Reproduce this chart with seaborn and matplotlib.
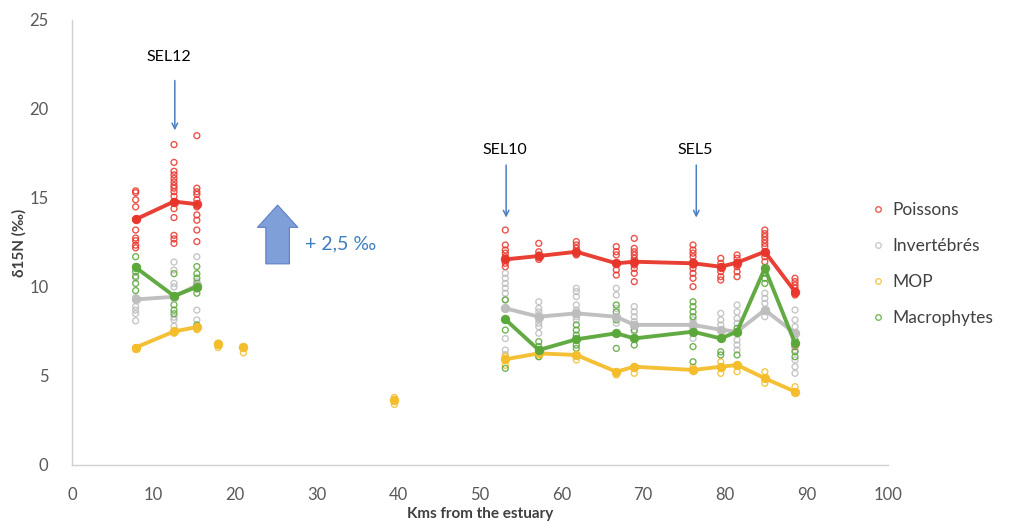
import pandas as pd
import matplotlib.pyplot as plt
from matplotlib.lines import Line2D
import seaborn as sns

# ==================== Données ====================
# stations : partie aval (gauche) et partie amont (droite)
sites_gauche = [7.8, 12.5, 15.3]
sites_droite = [53.1, 57.2, 61.8, 66.7, 68.9, 76.1, 79.5, 81.5, 84.9, 88.6]
sites_mop_isoles = [17.9, 21.0, 39.5]

# échantillons individuels, une liste par station (gauche puis droite)
poissons_ech = [
    [15.4, 15.3, 14.9, 14.5, 13.8, 13.2, 12.75, 12.6, 12.35, 12.2],
    [18.0, 17.0, 16.5, 16.3, 16.1, 15.9, 15.7, 15.55, 15.35, 15.1, 14.8, 14.4, 13.9, 12.9, 12.7, 12.45],
    [18.5, 15.55, 15.35, 15.2, 14.9, 14.5, 14.05, 13.75, 13.2, 12.55],
    [13.2, 12.36, 12.08, 11.9, 11.7, 11.55, 11.33, 11.14],
    [12.45, 11.98, 11.8, 11.7, 11.55],
    [12.55, 12.36, 12.17, 11.98, 11.8],
    [12.27, 11.98, 11.8, 11.33, 10.96, 10.67],
    [12.73, 12.17, 11.98, 11.8, 11.61, 11.42, 11.24, 11.05, 10.77, 10.3],
    [12.36, 12.08, 11.9, 11.7, 11.42, 11.24, 11.05, 10.77, 10.49, 10.02],
    [11.61, 11.33, 11.14, 10.86, 10.58, 10.39],
    [11.8, 11.61, 11.37, 11.14, 10.86, 10.58],
    [13.2, 13.0, 12.83, 12.64, 12.45, 12.27, 11.98, 11.7, 11.42],
    [10.49, 10.3, 10.11, 9.93, 9.74, 9.55, 6.65],
]
invertebres_ech = [
    [10.5, 9.4, 8.9, 8.7, 8.5, 8.1],
    [11.4, 10.95, 10.2, 10.0, 9.5, 8.3, 8.15, 7.8],
    [11.7, 10.3, 9.9, 8.7, 8.15],
    [10.77, 10.49, 10.2, 9.93, 9.65, 9.3, 8.8, 8.2, 7.1, 6.46, 6.2],
    [9.17, 8.8, 8.6, 8.4, 8.15, 7.96, 7.77, 7.4],
    [9.93, 9.74, 9.46, 8.99, 8.7, 8.33, 8.15],
    [9.93, 9.55, 8.8, 8.33, 7.96],
    [8.9, 8.6, 8.33, 8.05, 7.87, 7.5],
    [8.15, 7.96, 7.68, 7.11],
    [8.52, 8.15, 7.87, 7.58],
    [8.99, 8.6, 8.24, 7.96, 7.49, 7.02, 6.74, 6.46],
    [9.65, 9.36, 9.08, 8.71, 8.33],
    [8.71, 8.15, 7.77, 7.4, 6.46, 5.9, 5.52, 5.15],
]
macrophytes_ech = [
    [11.7, 11.15, 10.86, 10.6, 10.2, 9.8],
    [10.75, 9.45, 9.0, 8.7, 8.5],
    [11.15, 10.75, 10.5, 10.2, 9.9, 9.65, 7.87],
    [9.27, 8.18, 7.58, 5.43],
    [6.93, 6.65, 6.46, 6.27, 6.08],
    [7.87, 7.58, 7.3, 7.06, 6.74, 6.55],
    [8.99, 8.6, 8.15, 7.4, 6.55],
    [7.58, 7.11, 6.74],
    [9.17, 8.9, 8.6, 8.33, 7.49, 6.65, 5.8],
    [7.11, 6.36, 6.18],
    [7.68, 7.49, 6.18],
    [11.05, 10.77, 10.49, 10.2],
    [7.02, 6.84, 6.36, 6.08],
]
mop_ech = [
    [6.6, 6.5], [7.5, 7.4], [7.75, 7.6],
    [6.1, 5.94, 5.6], [6.27, 6.1], [6.18, 5.9], [5.24, 5.06], [5.52, 5.15],
    [5.5, 5.34], [5.8, 5.52, 5.15], [5.62, 5.24], [5.24, 4.87, 4.59], [4.4, 4.12],
]
mop_isoles_ech = [[6.85, 6.6], [6.6, 6.3], [3.8, 3.4]]

# moyennes par station (courbes)
poissons_moy_g = [13.8, 14.8, 14.65]
poissons_moy_d = [11.55, 11.74, 11.98, 11.33, 11.42, 11.33, 11.14, 11.37, 11.98, 9.74]
invertebres_moy_g = [9.3, 9.45, 10.1]
invertebres_moy_d = [8.8, 8.33, 8.52, 8.33, 7.87, 7.87, 7.6, 7.49, 8.71, 7.4]
macrophytes_moy_g = [11.1, 9.5, 10.0]
macrophytes_moy_d = [8.18, 6.46, 7.06, 7.4, 7.11, 7.49, 7.11, 7.49, 11.05, 6.84]
mop_moy_g = [6.6, 7.5, 7.75]
mop_moy_d = [5.94, 6.27, 6.18, 5.24, 5.52, 5.34, 5.52, 5.62, 4.87, 4.12]
mop_moy_isoles = [6.8, 6.65, 3.65]

groupes = ['Poissons', 'Invertébrés', 'MOP', 'Macrophytes']
couleurs = {'Poissons': '#e8352b', 'Invertébrés': '#bdbdbd', 'MOP': '#f3bd2b', 'Macrophytes': '#5aa73a'}


def en_long(sites, echantillons, groupe):
    rows = [(km, v, groupe) for km, vals in zip(sites, echantillons) for v in vals]
    return pd.DataFrame(rows, columns=['km', 'd15N', 'groupe'])


tous_sites = sites_gauche + sites_droite
df = pd.concat([
    en_long(tous_sites, poissons_ech, 'Poissons'),
    en_long(tous_sites, invertebres_ech, 'Invertébrés'),
    en_long(tous_sites, mop_ech, 'MOP'),
    en_long(sites_mop_isoles, mop_isoles_ech, 'MOP'),
    en_long(tous_sites, macrophytes_ech, 'Macrophytes'),
], ignore_index=True)

moyennes = {
    'Invertébrés': (invertebres_moy_g, invertebres_moy_d),
    'MOP': (mop_moy_g, mop_moy_d),
    'Macrophytes': (macrophytes_moy_g, macrophytes_moy_d),
    'Poissons': (poissons_moy_g, poissons_moy_d),
}

# ==================== Figure ====================
sns.set_style('white')
plt.rcParams['font.family'] = ['Lato', 'DejaVu Sans']

fig = plt.figure(figsize=(10.27, 5.23), dpi=100)
ax = fig.add_axes([0.0701, 0.1109, 0.7946, 0.8509])

# points individuels (cercles creux)
for g in groupes:
    sns.scatterplot(data=df[df['groupe'] == g], x='km', y='d15N', ax=ax, marker='o', s=18,
                    color=couleurs[g], facecolors='none', edgecolor=couleurs[g],
                    linewidth=1.0, alpha=0.85, legend=False, zorder=2)

# moyennes reliées par des lignes
for g, (moy_g, moy_d) in moyennes.items():
    for xs, ys in [(sites_gauche, moy_g), (sites_droite, moy_d)]:
        sns.lineplot(x=xs, y=ys, ax=ax, color=couleurs[g], linewidth=2.8, marker='o',
                     markersize=6, markeredgecolor=couleurs[g], alpha=0.95, zorder=3)
sns.scatterplot(x=sites_mop_isoles, y=mop_moy_isoles, ax=ax, color=couleurs['MOP'],
                s=40, edgecolor=couleurs['MOP'], legend=False, zorder=3)

ax.set_xlim(0, 100)
ax.set_ylim(0, 25)
ax.set_xticks(range(0, 101, 10))
ax.set_yticks(range(0, 26, 5))
ax.tick_params(axis='both', length=0, labelsize=12, labelcolor='#595959')
ax.tick_params(axis='x', pad=16)
ax.tick_params(axis='y', pad=17)
sns.despine(ax=ax)
for s in ['left', 'bottom']:
    ax.spines[s].set_color('#d0d0d0')
    ax.spines[s].set_linewidth(1)

ax.set_xlabel('Kms from the estuary', fontsize=11, fontweight='bold', color='#404040', labelpad=3)
ax.set_ylabel('δ15N (‰)', fontsize=11, fontweight='bold', color='#404040')
ax.yaxis.set_label_coords(-0.056, 0.5)

# ==================== Annotations ====================
fleche_fine = dict(arrowstyle='->', color='#4a7fc1', lw=1.1, shrinkA=0, shrinkB=0)
ax.annotate('', xy=(12.6, 18.8), xytext=(12.6, 21.6), arrowprops=fleche_fine)
ax.text(11.9, 22.9, 'SEL12', ha='center', va='center', fontsize=11.5, color='black')
ax.annotate('', xy=(53.2, 13.9), xytext=(53.2, 16.85), arrowprops=fleche_fine)
ax.text(53.0, 17.7, 'SEL10', ha='center', va='center', fontsize=11.5, color='black')
ax.annotate('', xy=(76.5, 13.9), xytext=(76.5, 16.85), arrowprops=fleche_fine)
ax.text(76.4, 17.7, 'SEL5', ha='center', va='center', fontsize=11.5, color='black')

ax.annotate('', xy=(25.2, 14.6), xytext=(25.2, 11.3),
            arrowprops=dict(arrowstyle='simple,head_length=0.8,head_width=1.45,tail_width=0.85',
                            mutation_scale=20, fc='#7f9fd8', ec='#5c80c4', lw=0.8,
                            shrinkA=0, shrinkB=0))
ax.text(28.5, 12.4, '+ 2,5 ‰', ha='left', va='center', fontsize=14, color='#3f7fc0')

# ==================== Légende ====================
poignees = [Line2D([], [], linestyle='', marker='o', markersize=4, markerfacecolor='none',
                   markeredgecolor=couleurs[g], markeredgewidth=1.0, alpha=0.8) for g in groupes]
fig.legend(poignees, groupes, loc='center left', bbox_to_anchor=(0.835, 0.495), frameon=False,
           fontsize=12.5, labelcolor='#404040', handlelength=0.6, handletextpad=0.5,
           labelspacing=1.15)

fig.savefig('out.png', dpi=100)
